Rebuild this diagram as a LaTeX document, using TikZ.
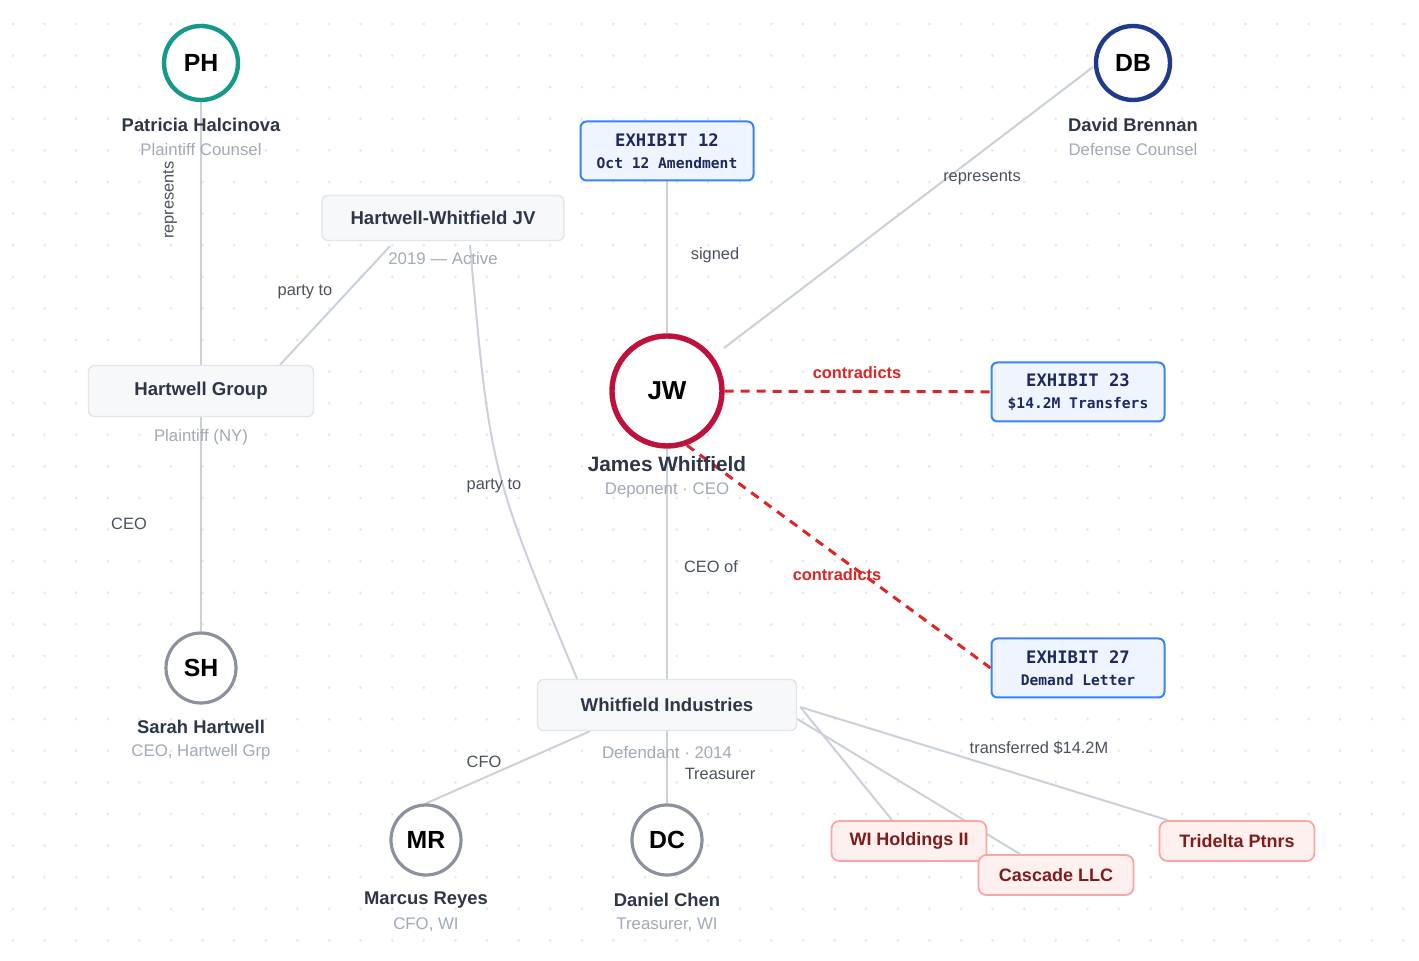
\documentclass[tikz,border=0pt]{standalone}
\usepackage{fontspec}
\setmainfont{Liberation Sans}
\setmonofont{DejaVu Sans Mono}
\usepackage{xcolor}
\usepackage{tikz}
\usetikzlibrary{calc,positioning}
\definecolor{tealx}{HTML}{16988A}
\definecolor{navyx}{HTML}{1E3A8A}
\definecolor{crimx}{HTML}{BE123C}
\definecolor{grayx}{HTML}{8B929E}
\definecolor{inkx}{HTML}{2D3748}
\definecolor{subx}{HTML}{A0AAB8}
\definecolor{edgex}{HTML}{CBD1DA}
\definecolor{lblx}{HTML}{4A5260}
\definecolor{redx}{HTML}{DC2626}
\definecolor{bluex}{HTML}{3B82F6}
\definecolor{bluebg}{HTML}{EFF5FF}
\definecolor{exink}{HTML}{1E2A5E}
\definecolor{boxbg}{HTML}{F7F8FA}
\definecolor{boxln}{HTML}{E2E5EA}
\definecolor{pinkbg}{HTML}{FFF0F0}
\definecolor{pinkln}{HTML}{FCA5A5}
\definecolor{maroonx}{HTML}{7F1D1D}
\definecolor{dotx}{HTML}{E6E9EE}
\pgfdeclarelayer{bg}
\pgfsetlayers{bg,main}
\newcommand{\fsz}[1]{\fontsize{#1}{#1}\selectfont}
\newcommand{\exh}[2]{{\ttfamily\bfseries\fsz{8.6}#1}\\[-1.2pt]{\ttfamily\bfseries\fsz{7.3}#2}}
\tikzset{
  pc/.style={circle,fill=white,inner sep=0pt,text=black,font=\bfseries\fsz{12.4}},
  nm/.style={text=inkx,font=\bfseries\fsz{9.2}},
  sb/.style={text=subx,font=\fsz{8.4}},
  el/.style={text=lblx,font=\fsz{8.2}},
  gb/.style={draw=boxln,line width=0.7pt,fill=boxbg,rounded corners=3pt,text=inkx,font=\bfseries\fsz{9.3},minimum height=25.5pt},
  ex/.style={draw=bluex,line width=1pt,fill=bluebg,rounded corners=3pt,align=center,text=exink,minimum width=86.5pt,minimum height=29.5pt,inner sep=2pt},
  rb/.style={draw=pinkln,line width=0.9pt,fill=pinkbg,rounded corners=4pt,text=maroonx,font=\bfseries\fsz{9},minimum width=77.5pt,minimum height=20pt},
  ln/.style={draw=edgex,line width=1pt},
  rd/.style={draw=redx,line width=1.5pt,dash pattern=on 4.5pt off 3.5pt}
}
\begin{document}
\begin{tikzpicture}[x=0.5pt,y=-0.5pt]
\useasboundingbox (0,0) rectangle (1419,961);
% dotted backdrop
\begin{pgfonlayer}{bg}
\fill[white] (0,0) rectangle (1419,961);
\foreach \i in {0,...,44}{\foreach \j in {0,...,29}{\fill[dotx] (13+31.6*\i,24+31.6*\j) circle (0.8pt);}}
\end{pgfonlayer}
% people
\node[pc,draw=tealx,line width=2.2pt,minimum size=37pt] (ph) at (201,63) {PH};
\node[pc,draw=navyx,line width=2.2pt,minimum size=37pt] (db) at (1133,63) {DB};
\node[pc,draw=crimx,line width=2.7pt,minimum size=55pt,font=\bfseries\fsz{13}] (jw) at (667,391) {JW};
\node[pc,draw=grayx,line width=1.6pt,minimum size=35pt] (sh) at (201,668) {SH};
\node[pc,draw=grayx,line width=1.6pt,minimum size=35pt] (mr) at (426,840) {MR};
\node[pc,draw=grayx,line width=1.6pt,minimum size=35pt] (dc) at (667,840) {DC};
% exhibits
\node[ex] (ex12) at (667,151) {\exh{EXHIBIT 12}{Oct 12 Amendment}};
\node[ex] (ex23) at (1078,392) {\exh{EXHIBIT 23}{\$14.2M Transfers}};
\node[ex] (ex27) at (1078,668) {\exh{EXHIBIT 27}{Demand Letter}};
% entities
\node[gb,minimum width=121pt,minimum height=22.5pt] (jv) at (443,218) {Hartwell-Whitfield JV};
\node[gb,minimum width=112.5pt] (hg) at (201,391) {Hartwell Group};
\node[gb,minimum width=129.5pt] (wi) at (667,705) {Whitfield Industries};
\node[rb] (wih) at (909,841) {WI Holdings II};
\node[rb] (tri) at (1237,841) {Tridelta Ptnrs};
\node[rb] (cas) at (1056,875) {Cascade LLC};
% connectors
\begin{pgfonlayer}{bg}
\foreach \p/\q in {ph/hg,hg/sh,ex12/jw,jw/wi,wi/dc}{\draw[ln] (\p)--(\q);}
\draw[ln] ($(hg.north)+(79,0)$) -- ($(jv.south)+(-53,5)$);
\draw[ln] ($(jv.south)+(27,4)$) .. controls (490,470) .. ($(wi.north)+(-90,0)$);
\draw[ln] ($(db)+(-40,4)$) -- ($(jw)+(57,-43)$);
\draw[ln] ($(wi.south)+(-77,0)$) -- (mr.north);
\draw[ln] ($(wi.east)+(3,2)$) -- ($(wih.north)+(-17,0)$);
\draw[ln] ($(wi.east)+(0,14)$) -- ($(cas.north)+(-36,0)$);
\draw[ln] ($(wi.east)+(3,2)$) -- ($(tri.north west)+(9,0)$);
\draw[rd] (jw) -- (ex23);
\draw[rd] (jw.-70) -- (ex27.west);
\end{pgfonlayer}
% names under the circles
\node[nm] (ph-n) at (201,125) {Patricia Halcinova};
\node[sb] (ph-s) at (201,150) {Plaintiff Counsel};
\node[nm] (db-n) at (1133,125) {David Brennan};
\node[sb] (db-s) at (1133,150) {Defense Counsel};
\node[nm,font=\bfseries\fsz{10.4}] (jw-n) at (667,464) {James Whitfield};
\node[sb] (jw-s) at (667,490) {Deponent · CEO};
\node[nm] (sh-n) at (201,727) {Sarah Hartwell};
\node[sb] (sh-s) at (201,752) {CEO, Hartwell Grp};
\node[nm] (mr-n) at (426,900) {Marcus Reyes};
\node[sb] (mr-s) at (426,925) {CFO, WI};
\node[nm] (dc-n) at (667,900) {Daniel Chen};
\node[sb] (dc-s) at (667,925) {Treasurer, WI};
\node[sb] (jv-s) at (443,259) {2019 — Active};
\node[sb] (hg-s) at (201,437) {Plaintiff (NY)};
\node[sb] (wi-s) at (667,752) {Defendant · 2014};
% edge labels
\node[el,rotate=90] (l-rep1) at (170,200) {represents};
\node[el] (l-party1) at (305,292) {party to};
\node[el] (l-ceo) at (129,524) {CEO};
\node[el] (l-sign) at (715,255) {signed};
\node[el] (l-rep2) at (982,178) {represents};
\node[el,text=redx,font=\bfseries\fsz{8.2}] (l-con1) at (857,373) {contradicts};
\node[el] (l-party2) at (494,486) {party to};
\node[el,text=redx,font=\bfseries\fsz{8.2}] (l-con2) at (837,575) {contradicts};
\node[el] (l-ceoof) at (711,567) {CEO of};
\node[el] (l-cfo) at (484,762) {CFO};
\node[el] (l-treas) at (720,774) {Treasurer};
\node[el] (l-trans) at (1039,748) {transferred \$14.2M};
\end{tikzpicture}
\end{document}
